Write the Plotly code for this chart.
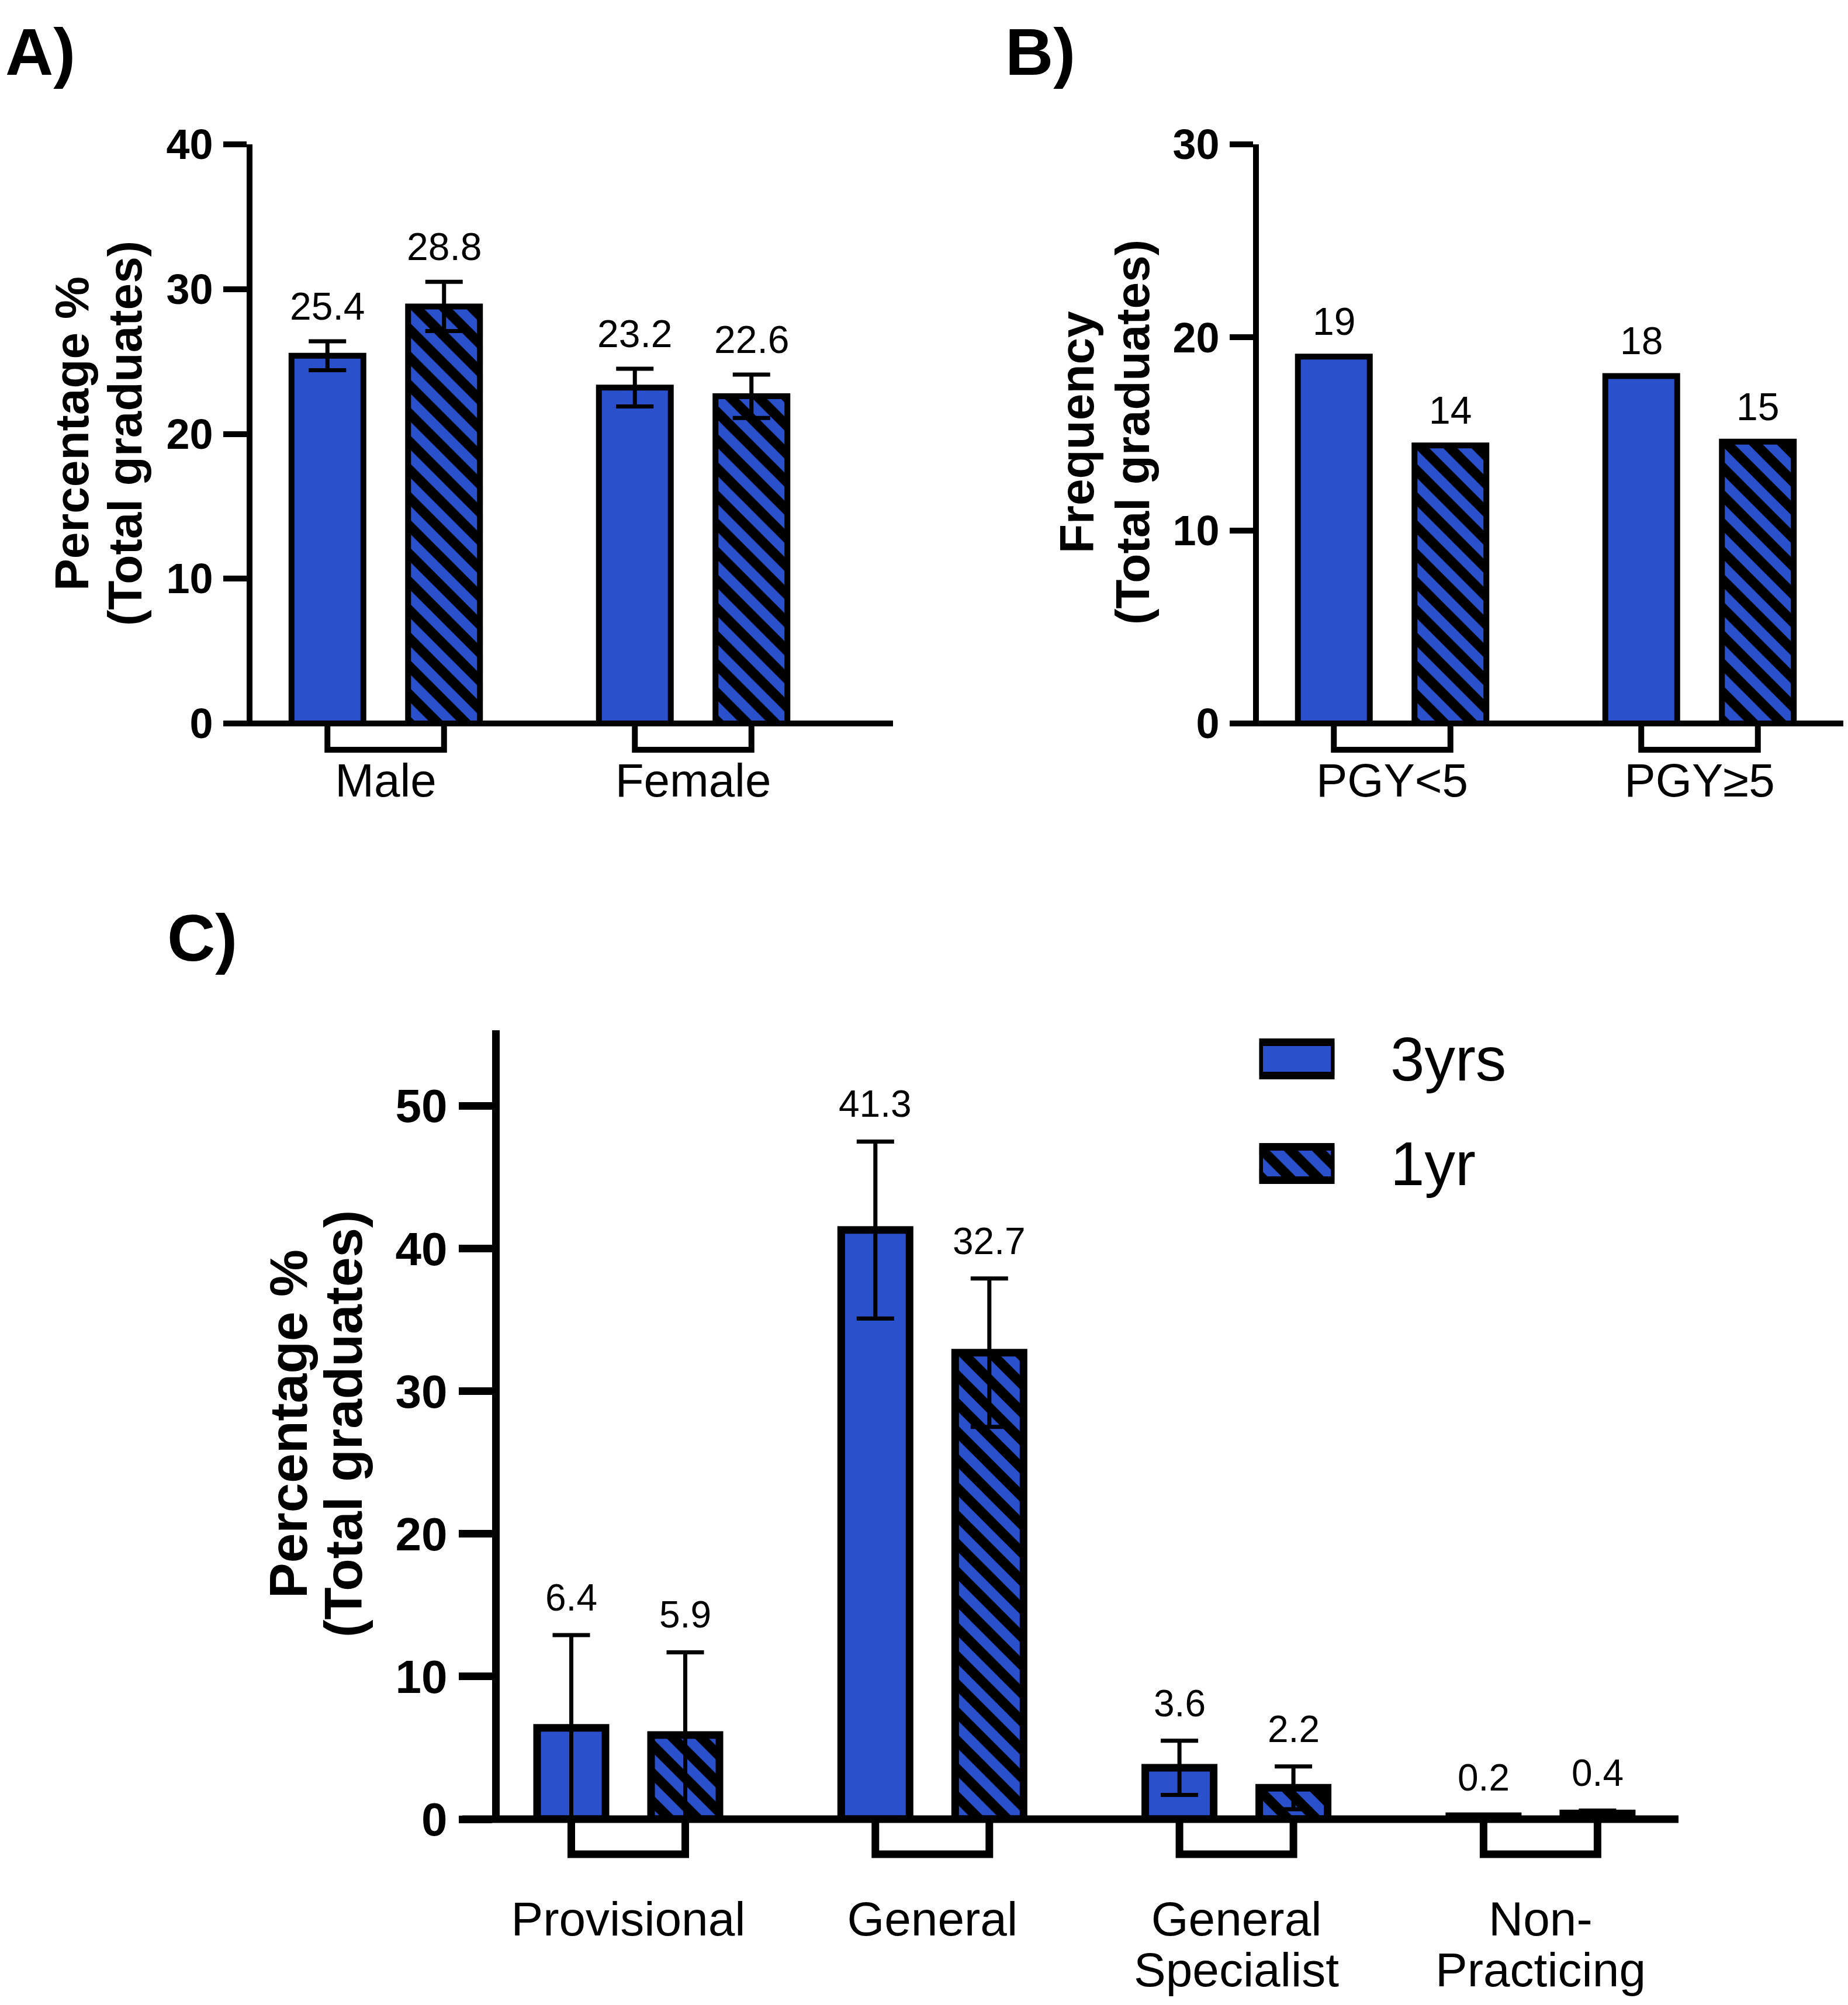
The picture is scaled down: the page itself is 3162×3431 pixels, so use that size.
import plotly.graph_objects as go

# ---------------- data ----------------
series_names = ["3yrs", "1yr"]

# Panel A
sex_categories = ["Male", "Female"]
sex_3yrs = [25.4, 23.2]
sex_3yrs_err = [1.0, 1.3]
sex_1yr = [28.8, 22.6]
sex_1yr_err = [1.7, 1.5]
sex_yticks = [0, 10, 20, 30, 40]

# Panel B
pgy_categories = ["PGY<5", "PGY≥5"]
pgy_3yrs = [19, 18]
pgy_1yr = [14.4, 14.6]
pgy_3yrs_labels = ["19", "18"]
pgy_1yr_labels = ["14", "15"]
pgy_yticks = [0, 10, 20, 30]

# Panel C
reg_categories = ["Provisional", "General", "General<br>Specialist", "Non-<br>Practicing"]
reg_3yrs = [6.4, 41.3, 3.6, 0.2]
reg_3yrs_err = [6.5, 6.2, 1.9, 0.1]
reg_1yr = [5.9, 32.7, 2.2, 0.4]
reg_1yr_err = [5.8, 5.2, 1.5, 0.2]
reg_yticks = [0, 10, 20, 30, 40, 50]

# ---------------- style ----------------
W, H = 3162, 3431
PAGE_OFF = 8  # default page margin around the figure
BLUE = "#2A50CB"
FONT = "Liberation Sans, Arial, sans-serif"
HATCH = dict(fgcolor="black", bgcolor=BLUE, size=34, solidity=0.5,
             fillmode="replace", fgopacity=1)


def px_x(p):
    return (p - PAGE_OFF) / W


def px_y(p):
    return 1 - (p - PAGE_OFF) / H


fig = go.Figure()
annotations = []
shapes = []


def fmt(v):
    return f"{v:.1f}"


def add_panel(idx, cats, v3, v1, e3, e1, lab3, lab1, yticks, yr_top,
              yaxis_px, x_end_px, y0_px, ytop_px, g0_px, unit, bw_px, off_px,
              lw, errw, ticklen, tickfont, catfont, valfont, label_gap, catstandoff,
              bracket_depth, ylabel_lines, ylabel_x, ylabel_y, ylabel_font,
              second_line_px=None):
    xa = "x" if idx == 1 else f"x{idx}"
    ya = "y" if idx == 1 else f"y{idx}"
    xkey = "xaxis" if idx == 1 else f"xaxis{idx}"
    ykey = "yaxis" if idx == 1 else f"yaxis{idx}"
    dom_left = yaxis_px + lw / 2
    xr = [(dom_left - g0_px) / unit, (x_end_px - g0_px) / unit]
    bw = bw_px / unit
    off = off_px / unit
    xs = list(range(len(cats)))

    for k, (vals, errs, pat) in enumerate([(v3, e3, ""), (v1, e1, "\\")]):
        o = -off - bw / 2 if k == 0 else off - bw / 2
        fig.add_trace(go.Bar(
            x=xs, y=vals, width=bw, offset=o,
            xaxis=xa, yaxis=ya, name=series_names[k], showlegend=False,
            marker=dict(color=BLUE, line=dict(color="black", width=lw),
                        pattern=dict(shape=pat, **HATCH)),
            error_y=dict(type="data", array=errs, visible=errs is not None,
                         color="black", thickness=errw, width=32),
            hoverinfo="skip",
        ))
        labels = lab3 if k == 0 else lab1
        for i, v in enumerate(vals):
            top = v + (errs[i] if errs is not None else 0)
            annotations.append(dict(
                x=i + (-off if k == 0 else off), y=top, xref=xa, yref=ya,
                text=labels[i], showarrow=False, xanchor="center", yanchor="middle",
                yshift=label_gap, font=dict(family=FONT, size=valfont, color="black")))

    # category labels: first line as tick label, optional second line set tighter below it
    first_lines = [c.split("<br>")[0] for c in cats]
    for i, c in enumerate(cats):
        parts = c.split("<br>")
        if len(parts) > 1 and second_line_px is not None:
            annotations.append(dict(x=i, y=px_y(second_line_px), xref=xa, yref="paper",
                                    text=parts[1], showarrow=False, xanchor="center",
                                    yanchor="middle",
                                    font=dict(family=FONT, size=catfont, color="black")))

    fig.update_layout({
        xkey: dict(domain=[px_x(dom_left), min(px_x(x_end_px), 1)], range=xr,
                   anchor=ya, showline=False, showgrid=False, zeroline=False,
                   automargin=False,
                   ticks="", tickvals=xs, ticktext=first_lines, ticklabelstandoff=catstandoff,
                   tickfont=dict(family=FONT, size=catfont, color="black")),
        ykey: dict(domain=[px_y(y0_px), px_y(ytop_px)], range=[0, yr_top], anchor=xa,
                   showline=True, linecolor="black", linewidth=lw, showgrid=False,
                   zeroline=False, automargin=False,
                   ticks="outside", ticklen=ticklen, tickwidth=lw,
                   tickcolor="black", tickvals=yticks, ticklabelstandoff=3,
                   tickfont=dict(family=FONT, size=tickfont, color="black", weight="bold")),
    })

    # x-axis baseline
    shapes.append(dict(type="line", xref="paper", yref="paper",
                       x0=px_x(yaxis_px - ticklen), x1=min(px_x(x_end_px), 1),
                       y0=px_y(y0_px), y1=px_y(y0_px),
                       line=dict(color="black", width=lw)))
    # group brackets under each category
    for i in xs:
        x0, x1 = i - off, i + off
        yt, yb = px_y(y0_px), px_y(y0_px + bracket_depth)
        shapes.append(dict(type="path", xref=xa, yref="paper",
                           path=f"M {x0},{yt} L {x0},{yb} L {x1},{yb} L {x1},{yt}",
                           line=dict(color="black", width=lw)))
    # y-axis title (two lines)
    for t, xp in zip(ylabel_lines, ylabel_x):
        annotations.append(dict(x=px_x(xp), y=px_y(ylabel_y), xref="paper", yref="paper",
                                text=t, textangle=-90, showarrow=False,
                                xanchor="center", yanchor="middle",
                                font=dict(family=FONT, size=ylabel_font, color="black",
                                          weight="bold")))


# Panel A
add_panel(1, sex_categories, sex_3yrs, sex_1yr, sex_3yrs_err, sex_1yr_err,
          [fmt(v) for v in sex_3yrs], [fmt(v) for v in sex_1yr], sex_yticks, 40,
          yaxis_px=427, x_end_px=1528, y0_px=1238, ytop_px=247, g0_px=660, unit=526,
          bw_px=123, off_px=99.75, lw=10, errw=7, ticklen=40, tickfont=72, catfont=80,
          valfont=66, label_gap=60, catstandoff=44, bracket_depth=45,
          ylabel_lines=["Percentage %", "(Total graduates)"], ylabel_x=[122, 213],
          ylabel_y=742, ylabel_font=82)

# Panel B
add_panel(2, pgy_categories, pgy_3yrs, pgy_1yr, None, None,
          pgy_3yrs_labels, pgy_1yr_labels, pgy_yticks, 30,
          yaxis_px=2149, x_end_px=3170, y0_px=1238, ytop_px=247, g0_px=2382, unit=526,
          bw_px=123, off_px=99.75, lw=10, errw=7, ticklen=40, tickfont=72, catfont=80,
          valfont=66, label_gap=60, catstandoff=44, bracket_depth=45,
          ylabel_lines=["Frequency", "(Total graduates)"], ylabel_x=[1843, 1938],
          ylabel_y=740, ylabel_font=82)

# Panel C
add_panel(3, reg_categories, reg_3yrs, reg_1yr, reg_3yrs_err, reg_1yr_err,
          [fmt(v) for v in reg_3yrs], [fmt(v) for v in reg_1yr], reg_yticks, 55.3,
          yaxis_px=848, x_end_px=2872, y0_px=3113, ytop_px=1763, g0_px=1075, unit=520.3,
          bw_px=117, off_px=97.5, lw=13, errw=7, ticklen=57, tickfont=80, catfont=82,
          valfont=64, label_gap=64, catstandoff=116, bracket_depth=60,
          ylabel_lines=["Percentage %", "(Total graduates)"], ylabel_x=[493, 587],
          ylabel_y=2437, ylabel_font=91, second_line_px=3370)

# ---------------- legend (panel C) as swatch bars on a hidden subplot ----------------
leg_unit = 179.0
leg_row_px = [1812, 1991]  # centres of 3yrs / 1yr rows
for k, name in enumerate(series_names):
    fig.add_trace(go.Bar(
        x=[1], y=[len(series_names) - 1 - k], orientation="h", width=57 / leg_unit,
        xaxis="x4", yaxis="y4", showlegend=False, cliponaxis=False, hoverinfo="skip",
        marker=dict(color=BLUE, line=dict(color="black", width=13),
                    pattern=dict(shape="" if k == 0 else "\\", **HATCH)),
    ))
    annotations.append(dict(x=px_x(2377), y=px_y(leg_row_px[k]), xref="paper", yref="paper",
                            text=name, showarrow=False, xanchor="left", yanchor="middle",
                            font=dict(family=FONT, size=105, color="black")))

fig.update_layout(
    xaxis4=dict(domain=[px_x(2154.5), px_x(2283.5)], range=[0, 1], visible=False,
                anchor="y4", automargin=False),
    yaxis4=dict(domain=[px_y(leg_row_px[1] + leg_unit / 2), px_y(leg_row_px[0] - leg_unit / 2)],
                range=[-0.5, 1.5], visible=False, anchor="x4", automargin=False),
)

# ---------------- panel letters ----------------
for txt, xp, yp in [("A)", 7, 88), ("B)", 1718, 88), ("C)", 284, 1605)]:
    annotations.append(dict(x=px_x(xp), y=px_y(yp), xref="paper", yref="paper",
                            text=txt, showarrow=False, xanchor="left", yanchor="middle",
                            font=dict(family=FONT, size=114, color="black", weight="bold")))

fig.update_layout(
    width=W, height=H,
    margin=dict(l=0, r=0, t=0, b=0, autoexpand=False),
    paper_bgcolor="white", plot_bgcolor="white",
    barmode="overlay", showlegend=False,
    annotations=annotations, shapes=shapes,
    font=dict(family=FONT, color="black"),
)

fig.write_html("out.html")
